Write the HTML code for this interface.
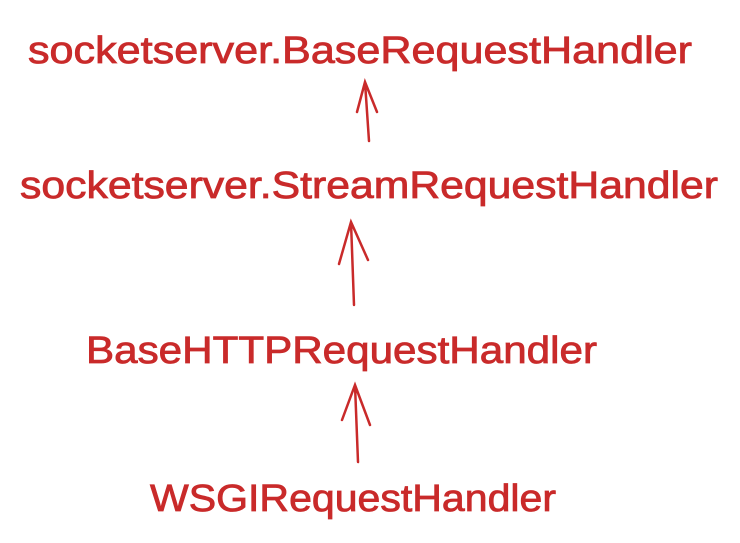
<!DOCTYPE html>
<html><head><style>html,body{margin:0;padding:0;background:#fff;}svg{display:block}</style></head>
<body>
<svg width="740" height="543" viewBox="0 0 740 543" xmlns="http://www.w3.org/2000/svg">
<g fill="#c92a2a" stroke="#c92a2a" stroke-width="0.8" font-family="Liberation Sans, sans-serif" font-size="38">
<text x="28" y="63" textLength="664" lengthAdjust="spacingAndGlyphs">socketserver.BaseRequestHandler</text>
<text x="20" y="198" textLength="698" lengthAdjust="spacingAndGlyphs">socketserver.StreamRequestHandler</text>
<text x="86" y="363" textLength="511" lengthAdjust="spacingAndGlyphs">BaseHTTPRequestHandler</text>
<text x="150" y="511" textLength="406" lengthAdjust="spacingAndGlyphs">WSGIRequestHandler</text>
</g>
<g stroke="#c92a2a" stroke-width="2.5" fill="none" stroke-linecap="round">
<path d="M369 141 L365 82 M357 112 L365 82 L377 112"/>
<path d="M354 305 L351 222 M339 264 L351 222 L368 260"/>
<path d="M358 462 L355 385 M342 420 L355 385 L370 425"/>
</g>
</svg>
</body></html>
